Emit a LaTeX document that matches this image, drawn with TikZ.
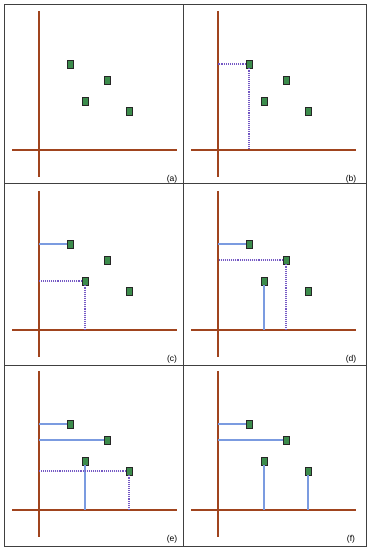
\documentclass[tikz,border=0pt]{standalone}
\usepackage{fontspec}
\setmainfont{Liberation Sans}
\definecolor{axisc}{HTML}{A0441E}
\definecolor{ptfill}{HTML}{3C8C4C}
\definecolor{solidc}{HTML}{7B9BE0}
\definecolor{dotc}{HTML}{7458C4}
\begin{document}
\begin{tikzpicture}[x=1pt,y=1pt,
  axis/.style={draw=axisc,line width=1.4pt},
  pt/.style={rectangle,draw=black!85,fill=ptfill,line width=0.8pt,minimum width=6pt,minimum height=8pt,inner sep=0pt},
  proj/.style={draw=solidc,line width=1.15pt},
  dproj/.style={draw=dotc,line width=1.1pt,densely dotted},
  lab/.style={font=\fontsize{8.5}{10}\selectfont,inner sep=0pt},
  frame/.style={draw=black!75,line width=0.8pt}]
\useasboundingbox (0,0) rectangle (369,550);
\draw[frame] (4,4) rectangle (366,546) (183,4) -- (183,546) (4,185) -- (366,185) (4,367) -- (366,367);
\foreach \p/\ox/\oy in {a/39/400,b/218/400,c/39/220,d/218/220,e/39/40,f/218/40}{
  \begin{scope}[shift={(\ox,\oy)}]
    \coordinate (\p o) at (0,0);
    \draw[axis] (0,139) -- (0,-27);
    \draw[axis] (-27,0) -- (138,0);
    \node[pt] (\p1) at (31,86) {};
    \node[pt] (\p2) at (68,70) {};
    \node[pt] (\p3) at (46,49) {};
    \node[pt] (\p4) at (90,39) {};
    \node[lab] (\p l) at (133,-29) {(\p)};
  \end{scope}
}
% (b)
\draw[dproj] (b1.west) -- (b1.west -| bo);
\draw[dproj] (b1.south) -- (b1.south |- bo);
% (c)
\draw[proj] (c1.west) -- (c1.west -| co);
\draw[dproj] (c3.west) -- (c3.west -| co);
\draw[dproj] (c3.south) -- (c3.south |- co);
% (d)
\draw[proj] (d1.west) -- (d1.west -| do);
\draw[dproj] (d2.west) -- (d2.west -| do);
\draw[dproj] (d2.south) -- (d2.south |- do);
\draw[proj] (d3.south) -- (d3.south |- do);
% (e)
\draw[proj] (e1.west) -- (e1.west -| eo);
\draw[proj] (e2.west) -- (e2.west -| eo);
\draw[proj] (e3.south) -- (e3.south |- eo);
\draw[dproj] (e4.west) -- (e4.west -| eo);
\draw[dproj] (e4.south) -- (e4.south |- eo);
% (f)
\draw[proj] (f1.west) -- (f1.west -| fo);
\draw[proj] (f2.west) -- (f2.west -| fo);
\draw[proj] (f3.south) -- (f3.south |- fo);
\draw[proj] (f4.south) -- (f4.south |- fo);
\end{tikzpicture}
\end{document}
